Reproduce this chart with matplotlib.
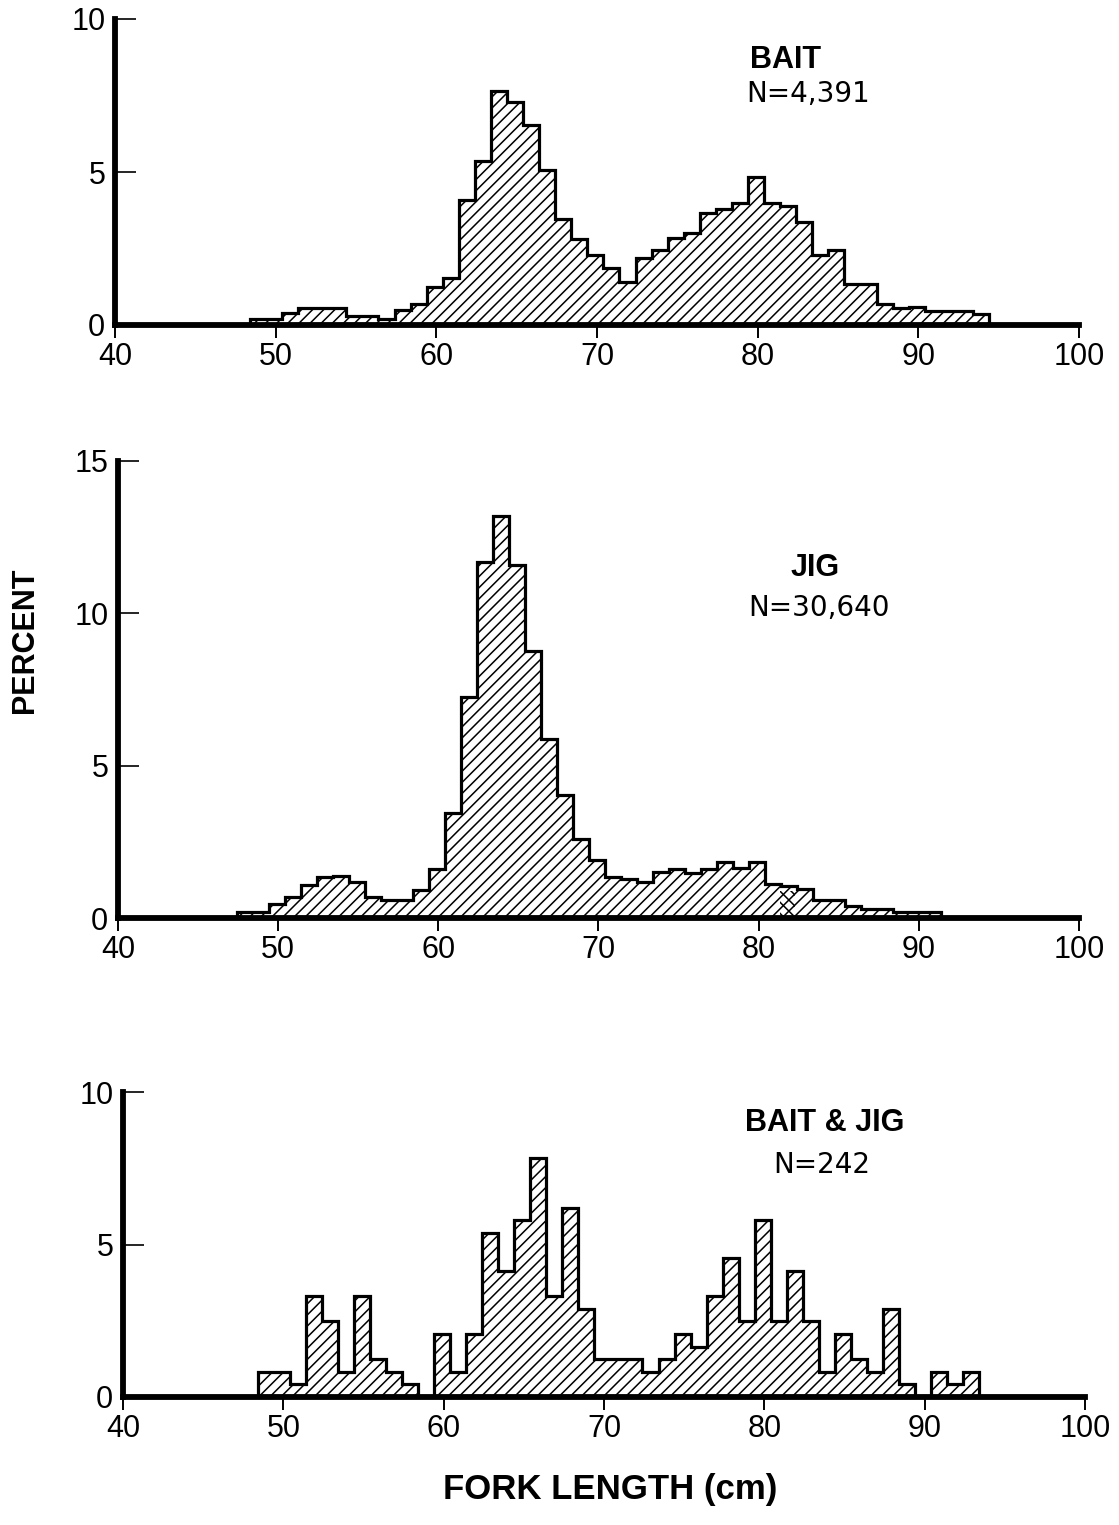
import numpy as np
import matplotlib
matplotlib.use("Agg")
import matplotlib.pyplot as plt

plt.rcParams['font.family'] = ['Liberation Sans', 'DejaVu Sans']
plt.rcParams['hatch.linewidth'] = 1.1

W, H = 1119, 1525

# ---------------- data (percent of fish per 1-cm fork-length class) ----------------
bait_bins = list(range(49, 95))
bait_pct = [0.18, 0.18, 0.40, 0.55, 0.55, 0.55, 0.30, 0.30, 0.20, 0.50,
            0.70, 1.25, 1.55, 4.10, 5.35, 7.65, 7.30, 6.55, 5.05, 3.45,
            2.80, 2.30, 1.85, 1.40, 2.20, 2.45, 2.85, 3.00, 3.65, 3.80,
            4.00, 4.85, 4.00, 3.90, 3.35, 2.30, 2.45, 1.35, 1.35, 0.70,
            0.55, 0.60, 0.45, 0.45, 0.45, 0.35]

jig_bins = list(range(48, 92))
jig_pct = [0.20, 0.20, 0.45, 0.70, 1.07, 1.33, 1.37, 1.18, 0.70, 0.58,
           0.58, 0.92, 1.62, 3.46, 7.24, 11.68, 13.20, 11.60, 8.75, 5.88,
           4.05, 2.60, 1.92, 1.35, 1.28, 1.19, 1.50, 1.61, 1.48, 1.61,
           1.83, 1.63, 1.83, 1.12, 1.05, 0.95, 0.60, 0.60, 0.40, 0.30,
           0.30, 0.21, 0.21, 0.21]
# small cross-hatched patch visible in the JIG panel
jig_overlap_bin = [82]
jig_overlap_pct = [0.9]

both_bins = list(range(49, 94))
both_pct = [0.83, 0.83, 0.41, 3.31, 2.48, 0.83, 3.31, 1.24, 0.83, 0.41,
            0.00, 2.07, 0.83, 2.07, 5.37, 4.13, 5.79, 7.85, 3.31, 6.20,
            2.89, 1.24, 1.24, 1.24, 0.83, 1.24, 2.07, 1.65, 3.31, 4.55,
            2.48, 5.79, 2.48, 4.13, 2.48, 0.83, 2.07, 1.24, 0.83, 2.89,
            0.41, 0.00, 0.83, 0.41, 0.83]

x_ticks = [40, 50, 60, 70, 80, 90, 100]
titles = ["BAIT", "JIG", "BAIT & JIG"]
n_labels = ["N=4,391", "N=30,640", "N=242"]
y_maxes = [10, 15, 10]
y_ticks = [[0, 5, 10], [0, 5, 10, 15], [0, 5, 10]]

# ---------------- layout (pixels) ----------------
axes_px = [(115, 1079, 325, 19), (118, 1079, 918, 461), (123, 1085, 1397, 1092)]
title_px = [(786, 60), (815, 568), (825, 1123)]
n_px = [(808, 94), (819, 608), (822, 1165)]

fig = plt.figure(figsize=(W / 100, H / 100), dpi=100)
fig.patch.set_facecolor("white")

series = [(bait_bins, bait_pct), (jig_bins, jig_pct), (both_bins, both_pct)]

for i, ((bins, vals), (x0, x1, y0, y1)) in enumerate(zip(series, axes_px)):
    ax = fig.add_axes([x0 / W, 1 - y0 / H, (x1 - x0) / W, (y0 - y1) / H])
    b = np.asarray(bins, dtype=float)
    edges = np.append(b - 0.6, b[-1] + 0.4)
    ax.stairs(vals, edges, baseline=0, fill=True, facecolor="white",
              edgecolor="black", hatch="///", linewidth=0, zorder=2)
    if i == 1:
        ax.bar(np.asarray(jig_overlap_bin) - 0.2, jig_overlap_pct, width=0.9,
               fill=False, edgecolor="black", hatch="\\\\\\", linewidth=0, zorder=2)
    ax.stairs(vals, edges, baseline=0, fill=False, edgecolor="black",
              linewidth=2.3, zorder=3)
    ax.set_xlim(40, 100)
    ax.set_ylim(0, y_maxes[i])
    ax.set_xticks(x_ticks)
    ax.set_xticklabels([str(t) for t in x_ticks])
    ax.set_yticks(y_ticks[i])
    ax.set_yticklabels([str(t) for t in y_ticks[i]])
    for s in ["top", "right"]:
        ax.spines[s].set_visible(False)
    for s in ["left", "bottom"]:
        ax.spines[s].set_linewidth(4.2)
        ax.spines[s].set_zorder(5)
    ax.tick_params(axis="x", direction="out", length=9, width=1.4, pad=3,
                   labelsize=22)
    ax.tick_params(axis="y", direction="in", length=15, width=1.2, pad=7,
                   labelsize=22)
    ax.patch.set_alpha(0)

    tx, ty = title_px[i]
    fig.text(tx / W, 1 - ty / H, titles[i], ha="center", va="center",
             fontsize=22, fontweight="bold")
    nx, ny = n_px[i]
    fig.text(nx / W, 1 - ny / H, n_labels[i], ha="center", va="center",
             fontsize=20, family=["DejaVu Sans"])

fig.text(25 / W, 1 - 640 / H, "PERCENT", rotation=90, ha="center", va="center",
         fontsize=22, fontweight="bold")
fig.text(610 / W, 1 - 1490 / H, "FORK LENGTH (cm)", ha="center", va="center",
         fontsize=25, fontweight="bold")

fig.savefig("out.png", dpi=100, facecolor="white")
